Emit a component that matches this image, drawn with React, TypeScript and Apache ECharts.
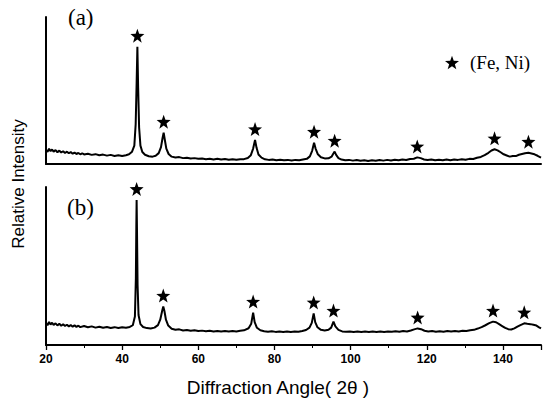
import React, { useEffect, useRef } from "react";
import * as echarts from "echarts";

// Diffraction angle range (2θ, degrees)
const ANGLE_MIN = 20;
const ANGLE_MAX = 150;
const TICK_STEP = 20;

// Pattern (a): profile points [2θ, intensity] between the reflections
const profileA: [number, number][] = [
  [20, 9.6], [20.4, 8.2], [20.8, 10.4], [21.2, 8.7], [21.6, 9.9], [22, 8.4], [22.5, 9.5], [23, 8.0],
  [23.5, 9.1], [24, 7.8], [24.5, 8.7], [25, 7.5], [25.5, 8.4], [26, 7.3], [26.5, 8.1], [27, 7.0],
  [27.5, 7.8], [28, 6.8], [28.5, 7.5], [29, 6.6], [29.5, 7.3], [30, 6.5], [31, 7.0], [32, 6.2],
  [33, 6.7], [34, 5.9], [35, 6.4], [36, 5.7], [37, 6.2], [38, 5.5], [39, 6.0], [40, 5.4], [41, 6.0],
  [41.8, 6.6], [42.6, 8.4], [43.2, 12.5], [43.55, 27], [43.8, 55], [44.2, 52], [44.45, 25],
  [44.8, 12.5], [45.3, 8.2], [46, 6.3], [47, 5.3], [48, 5.0], [48.8, 5.6], [49.6, 7.4], [50.2, 11.5],
  [50.6, 17.5], [51.2, 16.5], [51.6, 10.5], [52.2, 6.8], [53, 5.0], [54, 4.4], [55, 4.7], [56, 4.0],
  [57, 4.3], [58, 3.7], [59, 4.0], [60, 3.5], [61, 3.8], [62, 3.3], [63, 3.6], [64, 3.1], [65, 3.5],
  [66, 3.0], [67, 3.4], [68, 2.9], [69, 3.3], [70, 2.9], [71, 3.2], [72, 3.3], [73, 4.1], [73.8, 6.0],
  [74.4, 10.5], [75.3, 11], [75.8, 6.5], [76.6, 4.3], [77.5, 3.2], [78.5, 2.8], [79.5, 3.1],
  [80.5, 2.6], [81.5, 2.9], [82.5, 2.5], [83.5, 2.8], [84.5, 2.4], [85.5, 2.8], [86.5, 2.5],
  [87.5, 3.0], [88.5, 3.5], [89.3, 5.2], [89.9, 9.0], [90.8, 10.5], [91.4, 6.6], [92.2, 4.6],
  [93.2, 3.8], [94.2, 3.9], [95.0, 5.0], [95.4, 6.8], [96.2, 6.2], [96.8, 4.0], [97.6, 3.0],
  [98.6, 2.5], [99.6, 2.8], [100.6, 2.3], [101.6, 2.7], [102.6, 2.2], [103.6, 2.6], [104.6, 2.1],
  [105.6, 2.6], [106.6, 2.2], [107.6, 2.7], [108.6, 2.3], [109.6, 2.8], [110.6, 2.4], [111.6, 2.9],
  [112.6, 2.5], [113.6, 3.0], [114.6, 2.7], [115.6, 3.4], [116.6, 3.6], [118.4, 4.0], [119.3, 3.1],
  [120.2, 2.7], [121.2, 3.0], [122.2, 2.5], [123.2, 2.9], [124.2, 2.5], [125.2, 3.0], [126.2, 2.6],
  [127.2, 3.1], [128.2, 2.8], [129.2, 3.3], [130.2, 2.9], [131.2, 3.5], [132.2, 3.4], [133.2, 4.2],
  [134.2, 4.8], [135.2, 6.0], [136.2, 7.6], [137.0, 9.2], [138.6, 9.3], [139.4, 8.0], [140.2, 6.6],
  [141.0, 5.8], [141.8, 5.0], [142.6, 5.5], [143.4, 5.4], [144.2, 6.3], [145.0, 6.8], [145.8, 7.3],
  [147.5, 7.2], [148.3, 6.6], [149.1, 5.6], [150, 4.4],
];

// Pattern (a): (Fe, Ni) reflection maxima [2θ, intensity]
const peaksA: [number, number][] = [
  [44.0, 79.8], [50.9, 21.3], [74.9, 16.3], [90.4, 14.5],
  [95.8, 8.4], [117.5, 4.5], [137.8, 10.0], [146.7, 7.7],
];

// Pattern (b): profile points [2θ, intensity] between the reflections
const profileB: [number, number][] = [
  [20, 13.9], [20.4, 12.5], [20.8, 14.6], [21.2, 12.9], [21.6, 14.1], [22, 12.7], [22.5, 13.7],
  [23, 12.4], [23.5, 13.4], [24, 12.2], [24.5, 13.1], [25, 12.0], [25.5, 12.8], [26, 11.8],
  [26.5, 12.6], [27, 11.6], [27.5, 12.4], [28, 11.5], [28.5, 12.2], [29, 11.3], [30, 12.0],
  [31, 11.2], [32, 11.8], [33, 11.0], [34, 11.6], [35, 10.9], [36, 11.4], [37, 10.8], [38, 11.3],
  [39, 10.7], [40, 11.2], [41, 10.9], [42, 11.4], [42.8, 12.5], [43.35, 18], [43.6, 42],
  [43.72, 75], [43.9, 72], [44.05, 38], [44.3, 19], [44.8, 13.2], [45.5, 11.4], [46.5, 10.7],
  [47.5, 10.5], [48.5, 11.0], [49.4, 12.6], [50.0, 16.0], [50.5, 21.5], [51.1, 21.5], [51.5, 16],
  [52.1, 12.3], [53, 10.3], [54, 9.6], [55, 9.9], [56, 9.2], [57, 9.5], [58, 9.0], [59, 9.3],
  [60, 8.8], [61, 9.1], [62, 8.7], [63, 9.0], [64, 8.6], [65, 8.9], [66, 8.5], [67, 8.8], [68, 8.5],
  [69, 8.8], [70, 8.6], [71, 9.0], [72, 9.3], [73.2, 10.6], [73.9, 13.5], [74.8, 14.5], [75.4, 10.9],
  [76.3, 9.3], [77.3, 8.7], [78.3, 8.4], [79.3, 8.7], [80.3, 8.3], [81.3, 8.6], [82.3, 8.3],
  [83.3, 8.6], [84.3, 8.3], [85.3, 8.6], [86.3, 8.4], [87.3, 8.9], [88.3, 9.5], [89.2, 11.0],
  [89.8, 14.0], [90.7, 14.5], [91.3, 11.2], [92.2, 9.6], [93.2, 9.2], [94.2, 9.6], [94.9, 11.0],
  [96.0, 11.8], [96.8, 9.6], [97.8, 8.6], [98.8, 8.4], [99.8, 8.6], [100.8, 8.3], [101.8, 8.5],
  [102.8, 8.2], [103.8, 8.5], [104.8, 8.2], [105.8, 8.5], [106.8, 8.3], [107.8, 8.6], [108.8, 8.3],
  [109.8, 8.6], [110.8, 8.4], [111.8, 8.7], [112.8, 8.4], [113.8, 8.8], [114.8, 8.6], [115.8, 9.2],
  [116.7, 9.9], [118.5, 10.0], [119.4, 9.0], [120.4, 8.6], [121.4, 8.8], [122.4, 8.4], [123.4, 8.7],
  [124.4, 8.4], [125.4, 8.8], [126.4, 8.5], [127.4, 8.9], [128.4, 8.6], [129.4, 9.0], [130.4, 8.8],
  [131.4, 9.3], [132.4, 9.6], [133.4, 10.4], [134.4, 11.3], [135.4, 12.5], [136.4, 13.8],
  [138.2, 14.4], [139.0, 13.2], [139.8, 12.0], [140.6, 10.8], [141.4, 10.0], [142.2, 9.8],
  [143.0, 10.5], [143.8, 11.6], [144.6, 12.6], [146.4, 13.4], [147.2, 13.2], [148.0, 12.8],
  [148.8, 12.3], [149.5, 11.2], [150, 10.5],
];

// Pattern (b): (Fe, Ni) reflection maxima [2θ, intensity]
const peaksB: [number, number][] = [
  [43.8, 91.8], [50.8, 24.3], [74.4, 20.5], [90.3, 20.0],
  [95.5, 14.8], [117.6, 10.5], [137.4, 14.8], [145.6, 13.7],
];

const PHASE_NAME = "(Fe, Ni)";
const STAR =
  "path://M12,0.5 L14.9,8.6 L23.5,8.9 L16.7,14.2 L19.1,22.5 L12,17.6 L4.9,22.5 L7.3,14.2 L0.5,8.9 L9.1,8.6 Z";

const merge = (a: [number, number][], b: [number, number][]) =>
  [...a, ...b].sort((p, q) => p[0] - q[0]);

export default function App() {
  const ref = useRef<HTMLDivElement>(null);

  useEffect(() => {
    if (!ref.current) return;
    const chart = echarts.init(ref.current, undefined, { renderer: "svg" });

    const axisLine = { show: true, onZero: false, lineStyle: { color: "#000", width: 2 } };
    const hiddenX = {
      type: "value" as const,
      min: ANGLE_MIN,
      max: ANGLE_MAX,
      axisLine,
      axisTick: { show: false },
      axisLabel: { show: false },
      splitLine: { show: false },
    };
    const yAxisBase = {
      type: "value" as const,
      min: 0,
      max: 100,
      axisLine,
      axisTick: { show: false },
      axisLabel: { show: false },
      splitLine: { show: false },
    };
    const lineSeries = (data: [number, number][], idx: number) => ({
      type: "line" as const,
      xAxisIndex: idx,
      yAxisIndex: idx,
      data,
      showSymbol: false,
      symbol: "none",
      lineStyle: { color: "#000", width: 2 },
      silent: true,
    });
    const starSeries = (data: [number, number][], idx: number) => ({
      type: "scatter" as const,
      name: PHASE_NAME,
      xAxisIndex: idx,
      yAxisIndex: idx,
      data,
      symbol: STAR,
      symbolSize: 14,
      symbolOffset: [0, -11],
      itemStyle: { color: "#000", opacity: 1 },
      silent: true,
    });

    chart.setOption({
      animation: false,
      grid: [
        { left: 46, right: 9, top: 17, height: 147 },
        { left: 46, right: 9, top: 187, height: 158 },
      ],
      xAxis: [
        { ...hiddenX, gridIndex: 0 },
        {
          ...hiddenX,
          gridIndex: 1,
          interval: TICK_STEP,
          axisTick: { show: true, length: 5, lineStyle: { color: "#000", width: 1.3 } },
          minorTick: { show: true, splitNumber: 2, length: 3, lineStyle: { color: "#000", width: 1 } },
          axisLabel: {
            show: true,
            showMaxLabel: false,
            color: "#000",
            fontFamily: "Liberation Sans",
            fontSize: 12,
            fontWeight: "bold",
            margin: 8,
          },
        },
      ],
      yAxis: [
        { ...yAxisBase, gridIndex: 0 },
        { ...yAxisBase, gridIndex: 1 },
      ],
      legend: {
        data: [{ name: PHASE_NAME, icon: STAR, itemStyle: { color: "#000", opacity: 1 } }],
        left: 440,
        top: 48,
        itemWidth: 14,
        itemHeight: 14,
        selectedMode: false,
        textStyle: {
          color: "#000",
          fontFamily: "Liberation Serif",
          fontSize: 19,
          padding: [0, 0, 0, 6],
        },
      },
      series: [
        lineSeries(merge(profileA, peaksA), 0),
        lineSeries(merge(profileB, peaksB), 1),
        starSeries(peaksA, 0),
        starSeries(peaksB, 1),
      ],
      graphic: [
        {
          type: "text",
          left: 68,
          top: 6,
          style: { text: "(a)", font: '23px "Liberation Serif"', fill: "#000" },
        },
        {
          type: "text",
          left: 67,
          top: 196,
          style: { text: "(b)", font: '23px "Liberation Serif"', fill: "#000" },
        },
        {
          type: "text",
          x: 278,
          y: 387,
          style: {
            text: "Diffraction Angle( 2θ )",
            font: '19px "Liberation Sans"',
            fill: "#000",
            align: "center",
            verticalAlign: "middle",
          },
        },
        {
          type: "text",
          x: 18,
          y: 184,
          rotation: Math.PI / 2,
          style: {
            text: "Relative Intensity",
            font: '17px "Liberation Sans"',
            fill: "#000",
            align: "center",
            verticalAlign: "middle",
          },
        },
      ],
    });

    return () => chart.dispose();
  }, []);

  return (
    <div
      ref={ref}
      style={{ position: "fixed", left: 0, top: 0, width: 550, height: 403, background: "#fff" }}
    />
  );
}
